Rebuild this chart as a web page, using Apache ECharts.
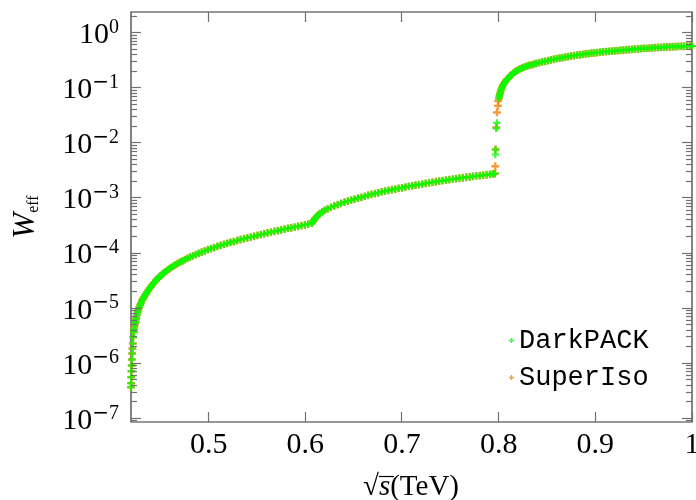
<!DOCTYPE html>
<html><head><meta charset="utf-8">
<script src="https://cdn.jsdelivr.net/npm/echarts@6/dist/echarts.min.js"></script>
<style>html,body{margin:0;padding:0;background:#fff}#c{width:696px;height:500px}</style>
</head><body><div id="c"></div>
<script>
// Shared smooth curve (both codes coincide here)
const curveSqrtS = [
0.4197,0.4198,0.4199,0.4201,0.4203,0.4206,0.4209,0.4212,0.4216,0.4220,
0.4226,0.4229,0.4233,0.4237,0.4242,0.4247,0.4252,0.4259,0.4266,0.4274,
0.4283,0.4292,0.4300,0.4310,0.4320,0.4331,0.4342,0.4353,0.4364,0.4376,
0.4389,0.4402,0.4415,0.4427,0.4441,0.4455,0.4469,0.4483,0.4500,0.4517,
0.4534,0.4551,0.4570,0.4590,0.4610,0.4632,0.4655,0.4679,0.4703,0.4729,
0.4755,0.4781,0.4807,0.4837,0.4867,0.4897,0.4928,0.4960,0.4992,0.5024,
0.5056,0.5090,0.5124,0.5158,0.5192,0.5226,0.5260,0.5295,0.5330,0.5365,
0.5400,0.5435,0.5470,0.5505,0.5540,0.5575,0.5610,0.5645,0.5680,0.5715,
0.5750,0.5785,0.5820,0.5855,0.5890,0.5925,0.5960,0.5995,0.6030,0.6067,
0.6080,0.6090,0.6100,0.6115,0.6130,0.6150,0.6175,0.6200,0.6230,0.6265,
0.6300,0.6335,0.6370,0.6405,0.6440,0.6475,0.6510,0.6545,0.6580,0.6615,
0.6650,0.6685,0.6720,0.6755,0.6790,0.6825,0.6860,0.6895,0.6930,0.6965,
0.7000,0.7035,0.7070,0.7105,0.7140,0.7175,0.7210,0.7245,0.7280,0.7315,
0.7350,0.7385,0.7420,0.7455,0.7490,0.7525,0.7560,0.7595,0.7630,0.7665,
0.7700,0.7735,0.7770,0.7805,0.7840,0.7875,0.7910,0.7940,0.7962,
0.8003,0.8008,0.8013,0.8019,0.8026,0.8034,0.8043,0.8053,0.8064,0.8076,
0.8089,0.8103,0.8118,0.8133,0.8148,0.8165,0.8183,0.8202,0.8222,0.8243,
0.8265,0.8290,0.8315,0.8340,0.8365,0.8390,0.8420,0.8450,0.8480,0.8510,
0.8540,0.8570,0.8600,0.8630,0.8660,0.8690,0.8720,0.8750,0.8780,0.8810,
0.8840,0.8870,0.8900,0.8930,0.8960,0.8990,0.9020,0.9050,0.9080,0.9110,
0.9140,0.9170,0.9200,0.9230,0.9260,0.9290,0.9320,0.9350,0.9380,0.9410,
0.9440,0.9470,0.9500,0.9530,0.9560,0.9590,0.9620,0.9650,0.9680,0.9710,
0.9740,0.9770,0.9800,0.9830,0.9860,0.9890,0.9920,0.9950,0.9980,1.0000
];
const curveWeff = [
3.66e-7,4.33e-7,5.56e-7,7.16e-7,9.08e-7,1.17e-6,1.50e-6,1.85e-6,2.28e-6,2.97e-6,
3.66e-6,4.12e-6,4.65e-6,5.10e-6,5.56e-6,6.17e-6,6.77e-6,7.59e-6,8.46e-6,9.40e-6,
1.04e-5,1.15e-5,1.24e-5,1.38e-5,1.48e-5,1.58e-5,1.70e-5,1.82e-5,1.96e-5,2.11e-5,
2.27e-5,2.43e-5,2.61e-5,2.79e-5,2.97e-5,3.18e-5,3.39e-5,3.60e-5,3.82e-5,4.06e-5,
4.31e-5,4.56e-5,4.82e-5,5.12e-5,5.43e-5,5.75e-5,6.10e-5,6.46e-5,6.85e-5,7.23e-5,
7.62e-5,8.02e-5,8.45e-5,8.91e-5,9.40e-5,9.89e-5,1.04e-4,1.09e-4,1.15e-4,1.20e-4,
1.26e-4,1.32e-4,1.38e-4,1.44e-4,1.50e-4,1.56e-4,1.62e-4,1.69e-4,1.76e-4,1.82e-4,
1.89e-4,1.95e-4,2.02e-4,2.09e-4,2.17e-4,2.24e-4,2.32e-4,2.39e-4,2.47e-4,2.55e-4,
2.63e-4,2.72e-4,2.80e-4,2.88e-4,2.97e-4,3.06e-4,3.16e-4,3.25e-4,3.35e-4,3.45e-4,
3.72e-4,3.98e-4,4.25e-4,4.55e-4,4.84e-4,5.20e-4,5.60e-4,5.94e-4,6.34e-4,6.76e-4,
7.16e-4,7.59e-4,8.00e-4,8.38e-4,8.75e-4,9.14e-4,9.53e-4,9.91e-4,1.03e-3,1.07e-3,
1.12e-3,1.16e-3,1.20e-3,1.24e-3,1.29e-3,1.33e-3,1.37e-3,1.41e-3,1.45e-3,1.49e-3,
1.53e-3,1.58e-3,1.62e-3,1.66e-3,1.71e-3,1.75e-3,1.79e-3,1.84e-3,1.88e-3,1.93e-3,
1.97e-3,2.02e-3,2.07e-3,2.11e-3,2.15e-3,2.20e-3,2.24e-3,2.29e-3,2.33e-3,2.38e-3,
2.42e-3,2.47e-3,2.51e-3,2.55e-3,2.59e-3,2.64e-3,2.69e-3,2.73e-3,2.77e-3,
6.41e-2,7.08e-2,7.76e-2,8.51e-2,9.29e-2,0.101,0.110,0.118,0.126,0.135,
0.144,0.152,0.162,0.172,0.182,0.192,0.202,0.211,0.220,0.229,
0.238,0.247,0.255,0.262,0.270,0.278,0.286,0.295,0.303,0.312,
0.321,0.330,0.338,0.346,0.354,0.362,0.370,0.378,0.385,0.392,
0.398,0.406,0.412,0.419,0.425,0.431,0.437,0.443,0.448,0.454,
0.459,0.465,0.470,0.475,0.481,0.485,0.491,0.495,0.500,0.505,
0.509,0.514,0.519,0.522,0.527,0.531,0.535,0.540,0.543,0.547,
0.551,0.555,0.557,0.561,0.564,0.566,0.569,0.572,0.574,0.575
];
// Points on the threshold jump near 0.797 TeV, per code
const darkpackJumpSqrtS = [0.7966,0.7968,0.7976,0.7982];
const darkpackJumpWeff  = [6.15e-3,7.59e-3,1.83e-2,2.31e-2];
const superisoJumpSqrtS = [0.7965,0.7968,0.7976,0.7982,0.7993,0.7995];
const superisoJumpWeff  = [3.77e-3,7.59e-3,1.91e-2,3.57e-2,4.71e-2,5.73e-2];

const xTickValues = [0.5,0.6,0.7,0.8,0.9,1];
const yDecadeExponents = [-7,-6,-5,-4,-3,-2,-1,0];
const minorMultipliers = [2,3,4,5,6,7,8,9];
const X_MIN = 0.4197, X_MAX = 1.0;
const Y_MIN = 8.57e-8, Y_MAX = 2.38;

const zip = (a, b) => a.map((v, i) => [v, b[i]]);
const darkpackData = zip(curveSqrtS, curveWeff).concat(zip(darkpackJumpSqrtS, darkpackJumpWeff));
const superisoData = zip(curveSqrtS, curveWeff).concat(zip(superisoJumpSqrtS, superisoJumpWeff));

const PLUS = 'path://M2.8,0H5.2V2.8H8V5.2H5.2V8H2.8V5.2H0V2.8H2.8Z';
const SERIF = 'Liberation Serif';
const TICK_COLOR = '#707070';
const MAJOR_LEN = 10, MINOR_LEN = 6;

// y tick marks (decoration) in data units of the log axis
const yTickValues = [], yTickLens = [];
for (let n = -8; n <= 0; n++) {
  const dec = Math.pow(10, n);
  if (dec >= Y_MIN && dec <= Y_MAX) { yTickValues.push(dec); yTickLens.push(MAJOR_LEN); }
  minorMultipliers.forEach(k => { const v = k * dec; if (v > Y_MIN && v < Y_MAX) { yTickValues.push(v); yTickLens.push(MINOR_LEN); } });
}

const LOG_MIN = Math.log10(Y_MIN), LOG_MAX = Math.log10(Y_MAX);
const yLabelFmt = v => {
  const r = Math.round(v);
  return r < 0 ? '{b|10}{m|\u2212}{s|' + (-r) + '}' : '{b|10}{s|' + r + '}';
};
const noLine = {show: false, onZero: false};

const chart = echarts.init(document.getElementById('c'), null, {renderer: 'canvas'});
chart.setOption({
  animation: false,
  grid: {show: true, left: 131, right: 4, top: 12, bottom: 78, borderColor: '#333', borderWidth: 1.2,
         backgroundColor: 'transparent', outerBoundsMode: 'none'},
  legend: {
    orient: 'vertical', left: 509, top: 327, padding: 0, itemWidth: 5, itemHeight: 5, itemGap: 10,
    textStyle: {fontFamily: 'Liberation Mono', fontSize: 27, color: '#000'},
    data: [{name: 'DarkPACK', icon: PLUS}, {name: 'SuperIso', icon: PLUS}]
  },
  xAxis: [
    {type: 'value', min: X_MIN, max: X_MAX, position: 'bottom',
     axisLine: noLine, splitLine: {show: false}, axisTick: {show: false},
     axisLabel: {customValues: xTickValues, margin: 8, fontFamily: SERIF, fontSize: 30, color: '#000',
                 formatter: v => (Math.abs(v - 1) < 1e-9 ? '1' : v.toFixed(1))}}
  ],
  yAxis: [
    {type: 'log', logBase: 10, min: Y_MIN, max: Y_MAX, position: 'left',
     axisLine: noLine, splitLine: {show: false}, minorTick: {show: false},
     axisTick: {show: false}, axisLabel: {show: false}},
    {type: 'value', min: LOG_MIN, max: LOG_MAX, position: 'left',
     axisLine: noLine, splitLine: {show: false}, axisTick: {show: false},
     axisLabel: {customValues: yDecadeExponents, margin: 12, formatter: yLabelFmt,
       rich: {
         b: {fontFamily: SERIF, fontSize: 30, color: '#000', lineHeight: 30, padding: [5, 0, 0, 0]},
         m: {fontFamily: 'DejaVu Sans', fontSize: 20, color: '#000', lineHeight: 20, verticalAlign: 'top'},
         s: {fontFamily: SERIF, fontSize: 20, color: '#000', lineHeight: 20, verticalAlign: 'top'}
       }}}
  ],
  series: [
    {name: 'SuperIso', type: 'scatter', xAxisIndex: 0, yAxisIndex: 0, data: superisoData,
     symbol: PLUS, symbolSize: 7.8, clip: false, z: 2, itemStyle: {color: '#ff8000'}},
    {name: 'DarkPACK', type: 'scatter', xAxisIndex: 0, yAxisIndex: 0, data: darkpackData,
     symbol: PLUS, symbolSize: 7.2, clip: false, z: 3, itemStyle: {color: '#00ff00'}}
  ]
});

// titles
const graphics = [
  {type: 'text', id: 'ytitle', x: 26, y: 217, rotation: Math.PI / 2,
   style: {text: '{w|W}{e|eff}', align: 'center', verticalAlign: 'middle',
     rich: {
       w: {fontFamily: SERIF, fontStyle: 'italic', fontSize: 31, fill: '#000', lineHeight: 31},
       e: {fontFamily: SERIF, fontSize: 16, fill: '#000', lineHeight: 16, verticalAlign: 'bottom'}
     }}},
  {type: 'text', id: 'xtitle', x: 411, y: 487,
   style: {text: '{r|\u221A}{s|s}{t|(TeV)}', align: 'center', verticalAlign: 'middle',
     rich: {
       r: {fontFamily: SERIF, fontSize: 29, fill: '#000'},
       s: {fontFamily: SERIF, fontStyle: 'italic', fontSize: 29, fill: '#000'},
       t: {fontFamily: SERIF, fontSize: 29, fill: '#000'}
     }}},
  {type: 'line', id: 'vinculum', shape: {x1: 379, y1: 476.5, x2: 394, y2: 476.5}, style: {stroke: '#000', lineWidth: 1.2}}
];
// tick marks placed through the chart's own axes (inward, on all four sides), snapped to pixel centres
const toPx = (x, y) => chart.convertToPixel({xAxisIndex: 0, yAxisIndex: 0}, [x, y]);
const snap = c => Math.round(c - 0.5) + 0.5;
yTickValues.forEach((v, i) => {
  const len = yTickLens[i];
  const pL = toPx(X_MIN, v), pR = toPx(X_MAX, v);
  const yy = snap(pL[1]);
  graphics.push({type: 'line', id: 'ytl' + i, silent: true, z: 5,
    shape: {x1: pL[0], y1: yy, x2: pL[0] + len, y2: yy}, style: {stroke: TICK_COLOR, lineWidth: 1.2}});
  graphics.push({type: 'line', id: 'ytr' + i, silent: true, z: 5,
    shape: {x1: pR[0], y1: yy, x2: pR[0] - len, y2: yy}, style: {stroke: TICK_COLOR, lineWidth: 1.2}});
});
xTickValues.forEach((v, i) => {
  const pB = toPx(v, Y_MIN), pT = toPx(v, Y_MAX);
  const xx = snap(pB[0]);
  graphics.push({type: 'line', id: 'xtb' + i, silent: true, z: 5,
    shape: {x1: xx, y1: pB[1], x2: xx, y2: pB[1] - MAJOR_LEN}, style: {stroke: TICK_COLOR, lineWidth: 1.2}});
  graphics.push({type: 'line', id: 'xtt' + i, silent: true, z: 5,
    shape: {x1: xx, y1: pT[1], x2: xx, y2: pT[1] + MAJOR_LEN}, style: {stroke: TICK_COLOR, lineWidth: 1.2}});
});
chart.setOption({graphic: graphics});
</script>
</body></html>
